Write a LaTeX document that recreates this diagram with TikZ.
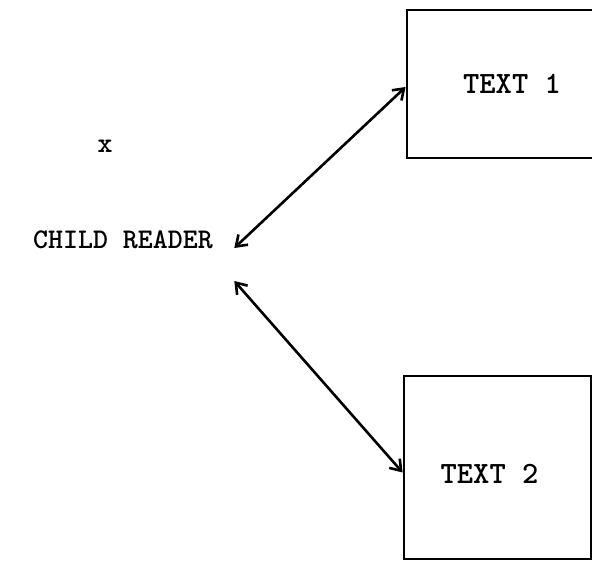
\documentclass[tikz,border=0pt]{standalone}
\usepackage{fontspec}
\usepackage{tikz}
\usetikzlibrary{arrows.meta}
\tikzset{>={Straight Barb[length=10pt,width=14pt,line width=2.6pt]}}
\tikzstyle{txtbox}=[draw,line width=2.8pt,rectangle,inner sep=0pt]
\tikzstyle{link}=[<->,line width=2.6pt,line cap=round]

\begin{document}
\begin{tikzpicture}[x=1pt,y=-1pt]
  \tikzstyle{every node}=[font=\ttfamily\bfseries\fontsize{28.5}{32}\selectfont]
  \def\boxfont{\fontsize{31}{34}\selectfont}
  \useasboundingbox (0,0) rectangle (592,562);

  % reader
  \node (x) at (105,146) {x};
  \node (reader) at (123,240) {CHILD READER};

  % texts
  \node[txtbox, minimum width=210, minimum height=148] (text1) at (512,84) {\boxfont TEXT 1};
  \node[txtbox, minimum width=187, minimum height=183,
        label={[xshift=-8pt,yshift=-6pt]center:\boxfont TEXT 2}] (text2) at (497.5,467.5) {};

  \draw[link] ([xshift=18pt,yshift=-8pt]reader.east) -- ([yshift=-3pt]text1.west);
  \draw[link] ([xshift=18pt,yshift=-41pt]reader.east) -- ([yshift=-5pt]text2.west);
\end{tikzpicture}
\end{document}
